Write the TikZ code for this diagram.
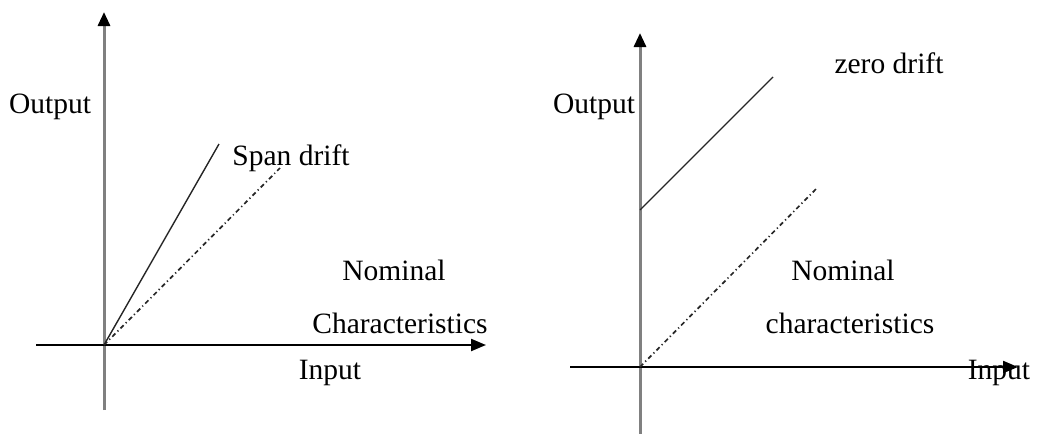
\documentclass[tikz,border=0pt]{standalone}
\usepackage{fontspec}
\setmainfont{Liberation Serif}
\usetikzlibrary{arrows.meta}

\begin{document}
\begin{tikzpicture}[x=1pt, y=-1pt,
    every node/.style={font=\fontsize{29.5}{34}\selectfont, inner sep=0pt},
    yaxis/.style={line width=3pt, black!50, -{Triangle[length=14pt, width=12pt, black]}},
    xaxis/.style={line width=2.2pt, black, -{Triangle[length=15pt, width=12pt]}},
    curve/.style={line width=1.4pt, black!85},
    nominal/.style={line width=1.7pt, black!85, dash pattern=on 4.5pt off 3pt on 1.2pt off 3pt}]

    \useasboundingbox (0,0) rectangle (1037,434);

    % ---- Left panel: span drift ----
    \coordinate (oL) at (104,345);
    \coordinate (yLb) at (104,410);
    \coordinate (yLt) at (104,12);
    \coordinate (xLl) at (36,345);
    \coordinate (xLr) at (486,345);
    \coordinate (spanEnd) at (219,144);
    \coordinate (nomLEnd) at (280,168);

    \draw[yaxis] (yLb) -- (yLt);
    \draw[xaxis] (xLl) -- (xLr);
    \draw[curve] (oL) -- (spanEnd);
    \draw[nominal] (oL) -- (nomLEnd);

    \node (outL)  at (50,107)  {Output};
    \node (spanL) at (291,158) {Span drift};
    \node (nomL)  at (394,270) {Nominal};
    \node (charL) at (400,323) {Characteristics};
    \node (inL)   at (330,373) {Input};

    % ---- Right panel: zero drift ----
    \coordinate (oR) at (640,367);
    \coordinate (yRb) at (640,434);
    \coordinate (yRt) at (640,33);
    \coordinate (xRl) at (570,367);
    \coordinate (xRr) at (1018,367);
    \coordinate (zeroStart) at (640,210);
    \coordinate (zeroEnd) at (773,77);
    \coordinate (nomREnd) at (818,187);

    \draw[yaxis] (yRb) -- (yRt);
    \draw[xaxis] (xRl) -- (xRr);
    \draw[curve] (zeroStart) -- (zeroEnd);
    \draw[nominal] (oR) -- (nomREnd);

    \node (outR)  at (594,107) {Output};
    \node (zeroR) at (889,63)  {zero drift};
    \node (nomR)  at (843,270) {Nominal};
    \node (charR) at (850,323) {characteristics};
    \node (inR)   at (999,373) {Input};

\end{tikzpicture}
\end{document}
